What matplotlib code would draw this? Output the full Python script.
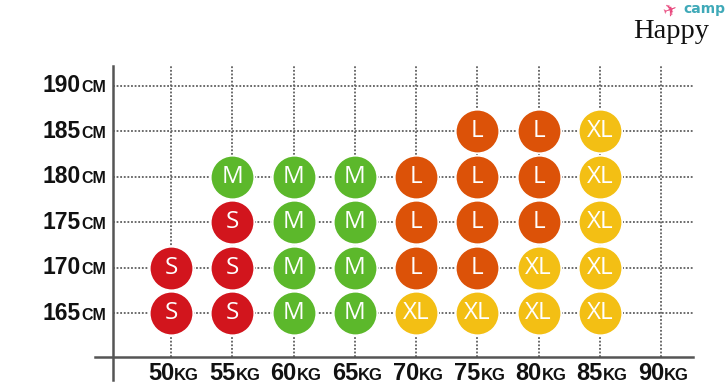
import matplotlib
matplotlib.use("Agg")
import matplotlib.pyplot as plt
from matplotlib.offsetbox import TextArea, HPacker, AnnotationBbox
from matplotlib.lines import Line2D

# ---- data ----
weights = [50, 55, 60, 65, 70, 75, 80, 85, 90]
heights = [165, 170, 175, 180, 185, 190]
weight_labels = ["50", "55", "60", "65", "70", "75", "80", "85", "90"]
height_labels = ["165", "170", "175", "180", "185", "190"]

# size chart: (weight, height, size)
s_w = [50, 50, 55, 55, 55]
s_h = [165, 170, 165, 170, 175]
m_w = [55, 60, 60, 60, 60, 65, 65, 65, 65]
m_h = [180, 165, 170, 175, 180, 165, 170, 175, 180]
l_w = [70, 70, 70, 75, 75, 75, 75, 80, 80, 80]
l_h = [170, 175, 180, 170, 175, 180, 185, 175, 180, 185]
xl_w = [70, 75, 80, 80, 85, 85, 85, 85, 85]
xl_h = [165, 165, 165, 170, 165, 170, 175, 180, 185]

sizes = {
    "S": (s_w, s_h, "#d2151d"),
    "M": (m_w, m_h, "#5cb82b"),
    "L": (l_w, l_h, "#dc5208"),
    "XL": (xl_w, xl_h, "#f3bf14"),
}

W, H = 728, 387
fig = plt.figure(figsize=(W / 100, H / 100), dpi=100)
fig.patch.set_facecolor("white")

ax_l, ax_r, ax_t, ax_b = 113, 693, 66, 357
ax = fig.add_axes([ax_l / W, 1 - ax_b / H, (ax_r - ax_l) / W, (ax_b - ax_t) / H])
ppkg = 61.25 / 5
ppcm = 45.4 / 5
ax.set_xlim(50 - (171 - ax_l) / ppkg, 90 + (ax_r - 661) / ppkg)
ax.set_ylim(165 - (ax_b - 313) / ppcm, 190 + (86 - ax_t) / ppcm)
for s in ax.spines.values():
    s.set_visible(False)
ax.set_xticks([])
ax.set_yticks([])

grid_kw = dict(color="#5f5f5f", lw=1.3, linestyle=(0, (1, 1.0)), zorder=1)
for w in weights:
    ax.axvline(w, **grid_kw)
for h in heights:
    ax.axhline(h, **grid_kw)

# axis lines (extended beyond axes)
ax.add_line(Line2D([0, 0], [1, -23 / (ax_b - ax_t)], transform=ax.transAxes,
                   color="#555555", lw=1.8, clip_on=False, zorder=3))
ax.add_line(Line2D([-18 / (ax_r - ax_l), 1], [0, 0], transform=ax.transAxes,
                   color="#555555", lw=1.8, clip_on=False, zorder=3))

for label, (ws, hs, col) in sizes.items():
    ax.scatter(ws, hs, s=980, color=col, edgecolor="white", linewidth=1.2, zorder=4)
    for w, h in zip(ws, hs):
        ax.text(w, h, label, ha="center", va="center", color="white",
                fontsize=17.5, family="Open Sans", zorder=5)

num_font = dict(size=16.5, weight="bold", family="Liberation Sans", color="#111111")
unit_font = dict(size=11.5, weight="bold", family="Liberation Sans", color="#111111")
xnum_font = dict(size=17, weight="bold", family="Liberation Sans", color="#111111")
xunit_font = dict(size=12, weight="bold", family="Liberation Sans", color="#111111")

def make_label(num, unit, nf, uf):
    return HPacker(children=[TextArea(num, textprops=nf),
                             TextArea(unit, textprops=uf)],
                   align="baseline", pad=0, sep=0)

for h, lab in zip(heights, height_labels):
    ab = AnnotationBbox(make_label(lab, "CM", num_font, unit_font),
                        (-(ax_l - 106) / (ax_r - ax_l), h),
                        xycoords=ax.get_yaxis_transform(), box_alignment=(1, 0.5),
                        frameon=False, pad=0, annotation_clip=False)
    ax.add_artist(ab)

for w, lab in zip(weights, weight_labels):
    ab = AnnotationBbox(make_label(lab, "KG", xnum_font, xunit_font),
                        (w + 0.2, -(374 - ax_b) / (ax_b - ax_t)),
                        xycoords=ax.get_xaxis_transform(), box_alignment=(0.5, 0.5),
                        frameon=False, pad=0, annotation_clip=False)
    ax.add_artist(ab)

# logo
fig.text(671 / W, 1 - 31 / H, "Happy", ha="center", va="center", fontsize=20.5,
         family="Liberation Serif", color="#111111")
fig.text(704 / W, 1 - 9 / H, "camp", ha="center", va="center", fontsize=10,
         weight="bold", family="DejaVu Sans", color="#3fa9b8")
fig.text(670 / W, 1 - 11 / H, "\u2708", ha="center", va="center", fontsize=12,
         family="DejaVu Sans", color="#e8467c", rotation=20)

fig.savefig("out.png", dpi=100, facecolor="white")
